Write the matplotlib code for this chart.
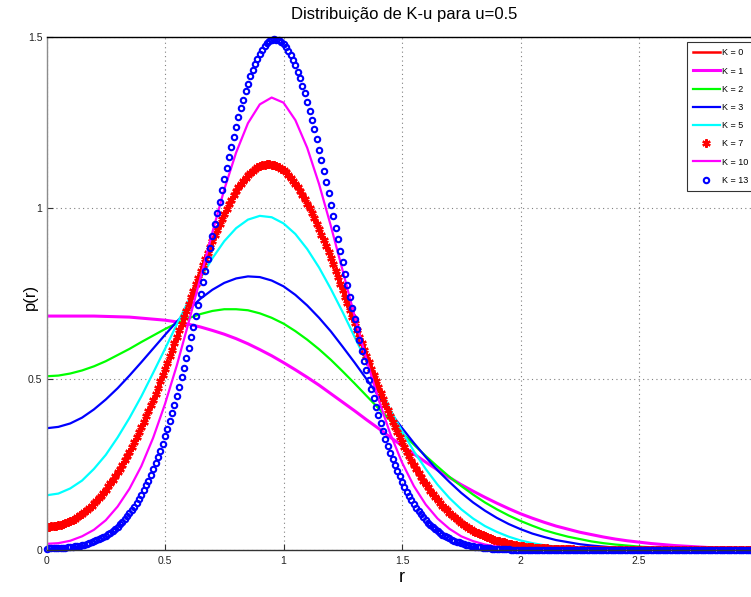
import numpy as np
import matplotlib
matplotlib.use("Agg")
import matplotlib.pyplot as plt

plt.rcParams['font.family'] = ['Liberation Sans', 'DejaVu Sans']

# ---------------- data ----------------
title_text = 'Distribuição de K-u para u=0.5'
x_label = 'r'
y_label = 'p(r)'
legend_labels = ['K = 0', 'K = 1', 'K = 2', 'K = 3', 'K = 5', 'K = 7', 'K = 10', 'K = 13']
x_ticks = [0, 0.5, 1, 1.5, 2, 2.5]
x_tick_labels = ['0', '0.5', '1', '1.5', '2', '2.5']
y_ticks = [0, 0.5, 1, 1.5]
y_tick_labels = ['0', '0.5', '1', '1.5']

# sample grids of r
r_coarse = np.linspace(0, 3, 61)   # step 0.05 (line curves)
r_fine = np.linspace(0, 3, 301)    # step 0.01 (marker curves)

# K = 0 : not visible in the reference (undefined curve), only in the legend
p_k0 = []

p_k1 = [0.684, 0.684, 0.684, 0.684, 0.684, 0.683, 0.682, 0.681, 0.678, 0.675,
        0.672, 0.667, 0.660, 0.652, 0.642, 0.631, 0.618, 0.603, 0.586, 0.568,
        0.548, 0.527, 0.505, 0.482, 0.457, 0.432, 0.407, 0.381, 0.356, 0.330,
        0.305, 0.281, 0.257, 0.234, 0.212, 0.191, 0.172, 0.154, 0.137, 0.121,
        0.106, 0.093, 0.081, 0.070, 0.061, 0.052, 0.045, 0.038, 0.032, 0.027,
        0.023, 0.019, 0.016, 0.013, 0.011, 0.009, 0.007, 0.006, 0.005, 0.004,
        0.003]

p_k2 = [0.508, 0.510, 0.516, 0.525, 0.537, 0.552, 0.570, 0.588, 0.608, 0.627,
        0.646, 0.663, 0.678, 0.690, 0.699, 0.704, 0.704, 0.701, 0.692, 0.679,
        0.662, 0.640, 0.615, 0.587, 0.556, 0.522, 0.487, 0.451, 0.415, 0.379,
        0.343, 0.308, 0.275, 0.244, 0.214, 0.187, 0.162, 0.139, 0.119, 0.101,
        0.085, 0.071, 0.058, 0.048, 0.039, 0.032, 0.025, 0.020, 0.016, 0.013,
        0.010, 0.008, 0.006, 0.004, 0.003, 0.003, 0.002, 0.001, 0.001, 0.001,
        0.001]

p_k3 = [0.356, 0.360, 0.370, 0.387, 0.411, 0.440, 0.473, 0.510, 0.549, 0.589,
        0.629, 0.668, 0.703, 0.735, 0.761, 0.781, 0.794, 0.800, 0.798, 0.788,
        0.771, 0.746, 0.715, 0.679, 0.639, 0.594, 0.548, 0.500, 0.451, 0.403,
        0.357, 0.313, 0.272, 0.233, 0.199, 0.167, 0.139, 0.115, 0.094, 0.076,
        0.061, 0.048, 0.038, 0.029, 0.023, 0.017, 0.013, 0.010, 0.007, 0.005,
        0.004, 0.003, 0.002, 0.001, 0.001, 0.001, 0.000, 0.000, 0.000, 0.000,
        0.000]

p_k5 = [0.160, 0.165, 0.180, 0.203, 0.237, 0.278, 0.329, 0.386, 0.449, 0.518,
        0.588, 0.660, 0.730, 0.795, 0.853, 0.903, 0.941, 0.966, 0.977, 0.973,
        0.955, 0.924, 0.880, 0.826, 0.763, 0.695, 0.623, 0.551, 0.480, 0.411,
        0.347, 0.289, 0.237, 0.191, 0.152, 0.119, 0.092, 0.070, 0.053, 0.039,
        0.028, 0.020, 0.014, 0.010, 0.007, 0.005, 0.003, 0.002, 0.001, 0.001,
        0.001, 0.000, 0.000, 0.000, 0.000, 0.000, 0.000, 0.000, 0.000, 0.000,
        0.000]

p_k7 = [0.068, 0.068, 0.069, 0.070, 0.071, 0.072, 0.074, 0.076, 0.079, 0.082,
        0.085, 0.088, 0.092, 0.096, 0.101, 0.106, 0.111, 0.117, 0.123, 0.129,
        0.136, 0.143, 0.151, 0.159, 0.168, 0.176, 0.186, 0.195, 0.205, 0.216,
        0.227, 0.238, 0.250, 0.262, 0.275, 0.288, 0.301, 0.315, 0.330, 0.344,
        0.359, 0.375, 0.391, 0.407, 0.423, 0.440, 0.457, 0.475, 0.493, 0.511,
        0.529, 0.547, 0.566, 0.585, 0.604, 0.623, 0.642, 0.662, 0.681, 0.700,
        0.720, 0.739, 0.758, 0.777, 0.796, 0.815, 0.833, 0.851, 0.869, 0.887,
        0.904, 0.921, 0.937, 0.953, 0.969, 0.983, 0.998, 1.011, 1.024, 1.037,
        1.049, 1.060, 1.070, 1.079, 1.088, 1.096, 1.103, 1.109, 1.115, 1.119,
        1.123, 1.125, 1.127, 1.128, 1.128, 1.127, 1.126, 1.123, 1.119, 1.115,
        1.110, 1.104, 1.097, 1.089, 1.080, 1.071, 1.060, 1.050, 1.038, 1.026,
        1.013, 0.999, 0.985, 0.970, 0.954, 0.939, 0.922, 0.905, 0.888, 0.871,
        0.853, 0.835, 0.816, 0.797, 0.779, 0.760, 0.740, 0.721, 0.702, 0.682,
        0.663, 0.644, 0.624, 0.605, 0.586, 0.567, 0.549, 0.530, 0.512, 0.494,
        0.476, 0.458, 0.441, 0.424, 0.408, 0.391, 0.375, 0.360, 0.345, 0.330,
        0.315, 0.301, 0.288, 0.274, 0.261, 0.249, 0.237, 0.225, 0.214, 0.203,
        0.193, 0.183, 0.173, 0.164, 0.155, 0.146, 0.138, 0.130, 0.123, 0.116,
        0.109, 0.102, 0.096, 0.090, 0.085, 0.079, 0.074, 0.070, 0.065, 0.061,
        0.057, 0.053, 0.049, 0.046, 0.043, 0.040, 0.037, 0.034, 0.032, 0.029,
        0.027, 0.025, 0.023, 0.022, 0.020, 0.018, 0.017, 0.016, 0.014, 0.013,
        0.012, 0.011, 0.010, 0.009, 0.009, 0.008, 0.007, 0.007, 0.006, 0.005,
        0.005, 0.005, 0.004, 0.004, 0.003, 0.003, 0.003, 0.003, 0.002, 0.002,
        0.002, 0.002, 0.002, 0.001, 0.001, 0.001, 0.001, 0.001, 0.001, 0.001,
        0.001, 0.001, 0.001, 0, 0, 0, 0, 0, 0, 0,
        0, 0, 0, 0, 0, 0, 0, 0, 0, 0,
        0, 0, 0, 0, 0, 0, 0, 0, 0, 0,
        0, 0, 0, 0, 0, 0, 0, 0, 0, 0,
        0, 0, 0, 0, 0, 0, 0, 0, 0, 0,
        0, 0, 0, 0, 0, 0, 0, 0, 0, 0,
        0, 0, 0, 0, 0, 0, 0, 0, 0, 0,
        0]

p_k10 = [0.018, 0.020, 0.027, 0.040, 0.059, 0.087, 0.127, 0.179, 0.245, 0.328,
         0.427, 0.540, 0.666, 0.797, 0.929, 1.054, 1.162, 1.248, 1.303, 1.323,
         1.308, 1.257, 1.176, 1.070, 0.947, 0.816, 0.684, 0.557, 0.442, 0.341,
         0.256, 0.187, 0.133, 0.092, 0.062, 0.040, 0.026, 0.016, 0.010, 0.006,
         0.003, 0.002, 0.001, 0.001, 0.000, 0.000, 0.000, 0.000, 0.000, 0.000,
         0.000, 0.000, 0.000, 0.000, 0.000, 0.000, 0.000, 0.000, 0.000, 0.000,
         0.000]

p_k13 = [0.004, 0.005, 0.005, 0.005, 0.005, 0.005, 0.006, 0.006, 0.007, 0.008,
         0.009, 0.010, 0.011, 0.012, 0.013, 0.015, 0.016, 0.018, 0.020, 0.023,
         0.025, 0.028, 0.031, 0.035, 0.038, 0.042, 0.047, 0.051, 0.057, 0.062,
         0.068, 0.075, 0.082, 0.090, 0.098, 0.107, 0.117, 0.127, 0.138, 0.149,
         0.162, 0.175, 0.189, 0.203, 0.219, 0.236, 0.253, 0.271, 0.290, 0.311,
         0.332, 0.354, 0.376, 0.400, 0.425, 0.451, 0.477, 0.505, 0.533, 0.562,
         0.592, 0.622, 0.653, 0.685, 0.717, 0.750, 0.783, 0.816, 0.850, 0.884,
         0.918, 0.952, 0.985, 1.019, 1.052, 1.085, 1.117, 1.148, 1.179, 1.209,
         1.238, 1.265, 1.292, 1.317, 1.341, 1.364, 1.385, 1.404, 1.421, 1.437,
         1.451, 1.463, 1.473, 1.481, 1.487, 1.491, 1.493, 1.492, 1.490, 1.485,
         1.479, 1.470, 1.460, 1.447, 1.433, 1.417, 1.399, 1.379, 1.358, 1.335,
         1.310, 1.285, 1.258, 1.230, 1.201, 1.170, 1.140, 1.108, 1.076, 1.043,
         1.010, 0.976, 0.942, 0.908, 0.874, 0.841, 0.807, 0.774, 0.741, 0.708,
         0.676, 0.645, 0.614, 0.583, 0.554, 0.525, 0.497, 0.470, 0.444, 0.418,
         0.394, 0.370, 0.347, 0.326, 0.305, 0.285, 0.266, 0.248, 0.231, 0.215,
         0.199, 0.185, 0.171, 0.158, 0.146, 0.134, 0.124, 0.114, 0.104, 0.096,
         0.088, 0.080, 0.073, 0.067, 0.061, 0.055, 0.050, 0.045, 0.041, 0.037,
         0.034, 0.030, 0.027, 0.024, 0.022, 0.020, 0.018, 0.016, 0.014, 0.013,
         0.011, 0.010, 0.009, 0.008, 0.007, 0.006, 0.005, 0.005, 0.004, 0.004,
         0.003, 0.003, 0.002, 0.002, 0.002, 0.002, 0.001, 0.001, 0.001, 0.001,
         0.001, 0.001, 0.001, 0.001, 0, 0, 0, 0, 0, 0,
         0, 0, 0, 0, 0, 0, 0, 0, 0, 0,
         0, 0, 0, 0, 0, 0, 0, 0, 0, 0,
         0, 0, 0, 0, 0, 0, 0, 0, 0, 0,
         0, 0, 0, 0, 0, 0, 0, 0, 0, 0,
         0, 0, 0, 0, 0, 0, 0, 0, 0, 0,
         0, 0, 0, 0, 0, 0, 0, 0, 0, 0,
         0, 0, 0, 0, 0, 0, 0, 0, 0, 0,
         0, 0, 0, 0, 0, 0, 0, 0, 0, 0,
         0, 0, 0, 0, 0, 0, 0, 0, 0, 0,
         0]

# ---------------- figure ----------------
W, H = 751, 597
fig = plt.figure(figsize=(W / 100, H / 100), dpi=100)
ax = fig.add_axes([46.5 / W, 47 / H, 711 / W, 513 / H])

RED = (1, 0, 0)
MAG = (1, 0, 1)
GRN = (0, 1, 0)
BLU = (0, 0, 1)
CYN = (0, 1, 1)

ax.plot(r_coarse[:len(p_k0)], p_k0, color=RED, lw=1.8, label=legend_labels[0])
ax.plot(r_coarse, p_k1, color=MAG, lw=2.2, label=legend_labels[1])
ax.plot(r_coarse, p_k2, color=GRN, lw=1.6, label=legend_labels[2])
ax.plot(r_coarse, p_k3, color=BLU, lw=1.6, label=legend_labels[3])
ax.plot(r_coarse, p_k5, color=CYN, lw=1.6, label=legend_labels[4])
ax.plot(r_fine, p_k7, linestyle='none', marker=(6, 2, 0), ms=6.0, mfc=RED, mec=RED,
        mew=1.6, color=RED, label=legend_labels[5], clip_on=True)
ax.plot(r_coarse, p_k10, color=MAG, lw=1.6, label=legend_labels[6])
ax.plot(r_fine, p_k13, linestyle='none', marker='o', ms=3.9, mfc='none', mec=BLU,
        mew=1.5, color=BLU, label=legend_labels[7], clip_on=False)

ax.set_xlim(0, 3)
ax.set_ylim(0, 1.5)
ax.set_xticks(x_ticks)
ax.set_xticklabels(x_tick_labels)
ax.set_yticks(y_ticks)
ax.set_yticklabels(y_tick_labels)
ax.tick_params(direction='in', length=4, width=0.8, colors='#333333',
               labelsize=7.5, labelcolor='#222222')
ax.tick_params(axis='x', pad=4)
ax.tick_params(axis='y', pad=3)

ax.grid(True, color='#808080', linestyle=(0, (1, 3)), linewidth=0.8)
ax.set_axisbelow(True)

ax.spines['right'].set_visible(False)
ax.spines['top'].set_color('black')
ax.spines['top'].set_linewidth(1.0)
ax.spines['left'].set_color('#8c8c8c')
ax.spines['left'].set_linewidth(1.0)
ax.spines['bottom'].set_color('#333333')
ax.spines['bottom'].set_linewidth(1.0)

fig.text(404 / W, 1 - 14 / H, title_text, ha='center', va='center', fontsize=12, color='black')
fig.text(402 / W, 1 - 578 / H, x_label, ha='center', va='center', fontsize=13, color='black')
fig.text(30 / W, 1 - 297 / H, y_label, ha='center', va='center', rotation=90,
         fontsize=12, color='black')

leg = ax.legend(loc='upper left', bbox_to_anchor=(687 / W, 1 - 42 / H),
                bbox_transform=fig.transFigure, borderaxespad=0, fontsize=6.5,
                frameon=True, fancybox=False, shadow=False, borderpad=0.7,
                handlelength=2.9, handletextpad=0.3, labelspacing=1.02,
                numpoints=1)
leg.get_frame().set_edgecolor('black')
leg.get_frame().set_linewidth(0.8)

fig.savefig('out.png', dpi=100)
